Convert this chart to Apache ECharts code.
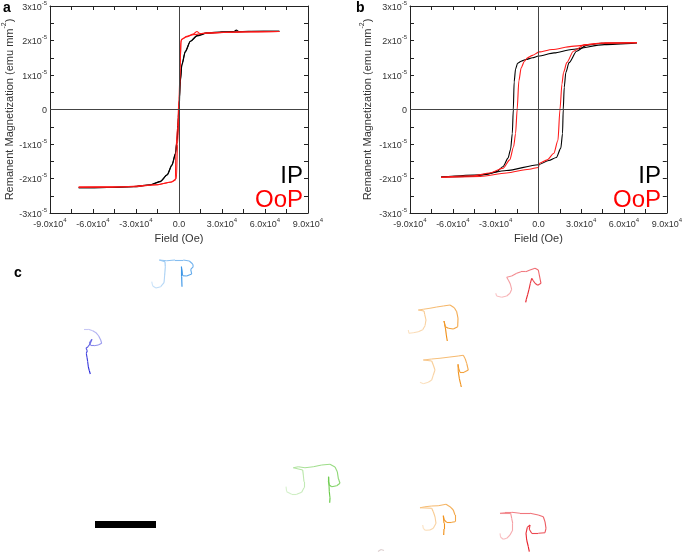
<!DOCTYPE html>
<html>
<head>
<meta charset="utf-8">
<script src="https://cdn.jsdelivr.net/npm/echarts@6/dist/echarts.min.js"></script>
<style>
html,body{margin:0;padding:0;background:#fff;}
#chart{width:685px;height:553px;}
</style>
</head>
<body>
<div id="chart"></div>
<script>
// ---------- DATA ----------
// Axis ticks
const fieldTicks = [-90000, -60000, -30000, 0, 30000, 60000, 90000];
const magTicks = [-3e-5, -2e-5, -1e-5, 0, 1e-5, 2e-5, 3e-5];

// Panel a: [field (Oe), magnetization (emu mm^-2)]
const a_IP_up = [[-70000,-2.27e-5],[-50000,-2.26e-5],[-31500,-2.23e-5],[-20000,-2.18e-5],[-13000,-2.08e-5],[-8300,-1.89e-5],[-4900,-1.6e-5],[-2500,-1.27e-5],[-1400,-0.89e-5],[-500,-0.22e-5],[200,0.26e-5],[900,0.83e-5],[2000,1.31e-5],[4400,1.69e-5],[7900,1.98e-5],[12500,2.14e-5],[19400,2.22e-5],[30000,2.25e-5],[38000,2.26e-5],[40000,2.3e-5],[42000,2.26e-5],[55000,2.27e-5],[70000,2.27e-5]];
const a_IP_down = [[70000,2.27e-5],[50000,2.26e-5],[30000,2.24e-5],[19400,2.21e-5],[12500,2.13e-5],[7900,1.97e-5],[4400,1.67e-5],[2000,1.28e-5],[900,0.8e-5],[-200,-0.3e-5],[-1400,-0.92e-5],[-2500,-1.3e-5],[-4900,-1.62e-5],[-8300,-1.9e-5],[-13000,-2.09e-5],[-20000,-2.19e-5],[-31500,-2.24e-5],[-50000,-2.26e-5],[-70000,-2.27e-5]];
const a_OoP_up = [[-70000,-2.25e-5],[-50000,-2.25e-5],[-31500,-2.24e-5],[-15300,-2.18e-5],[-6000,-2.11e-5],[-2500,-2.05e-5],[-2200,-1.2e-5],[-1000,-0.5e-5],[0,0.3e-5],[800,1.2e-5],[1200,1.95e-5],[2000,2.04e-5],[5500,2.12e-5],[10000,2.19e-5],[12500,2.26e-5],[14800,2.2e-5],[24000,2.22e-5],[38000,2.24e-5],[55000,2.25e-5],[70000,2.26e-5]];
const a_OoP_down = [[70000,2.26e-5],[40000,2.25e-5],[20000,2.22e-5],[10000,2.17e-5],[5000,2.1e-5],[1500,2.02e-5],[1000,1.5e-5],[0,-0.1e-5],[-1000,-1.0e-5],[-1800,-2.0e-5],[-5000,-2.1e-5],[-15000,-2.18e-5],[-40000,-2.24e-5],[-70000,-2.25e-5]];

// Panel b
const b_IP_down = [[69100,1.93e-5],[46200,1.88e-5],[23300,1.74e-5],[11000,1.64e-5],[0,1.55e-5],[-4100,1.5e-5],[-8700,1.45e-5],[-12100,1.4e-5],[-14600,1.34e-5],[-16000,1.18e-5],[-17000,0.8e-5],[-17600,0],[-18300,-0.7e-5],[-19500,-1.15e-5],[-21300,-1.41e-5],[-24700,-1.65e-5],[-29300,-1.8e-5],[-36200,-1.88e-5],[-45300,-1.93e-5],[-68200,-1.96e-5]];
const b_IP_up = [[-68200,-1.96e-5],[-40700,-1.89e-5],[-22400,-1.77e-5],[0,-1.6e-5],[7300,-1.48e-5],[12600,-1.39e-5],[15700,-1.12e-5],[16900,-0.7e-5],[17400,0],[18100,0.64e-5],[19200,1.07e-5],[21500,1.36e-5],[26800,1.69e-5],[33600,1.86e-5],[43900,1.92e-5],[69100,1.94e-5]];
const b_OoP_down = [[69100,1.94e-5],[46200,1.93e-5],[23300,1.83e-5],[9600,1.74e-5],[500,1.67e-5],[-4100,1.57e-5],[-7600,1.5e-5],[-9800,1.4e-5],[-12100,1.21e-5],[-13700,0.83e-5],[-14900,0],[-16000,-0.7e-5],[-17400,-1.08e-5],[-20100,-1.46e-5],[-24700,-1.7e-5],[-33900,-1.84e-5],[-45300,-1.92e-5],[-68200,-1.96e-5]];
const b_OoP_up = [[-68200,-1.97e-5],[-40700,-1.94e-5],[-22400,-1.84e-5],[-6400,-1.73e-5],[0,-1.68e-5],[700,-1.56e-5],[6200,-1.46e-5],[10800,-1.27e-5],[13700,-0.89e-5],[15100,0],[16500,0.74e-5],[17600,1.07e-5],[19900,1.36e-5],[24500,1.69e-5],[32500,1.88e-5],[43900,1.92e-5],[69100,1.93e-5]];

// Panel c: tracked trajectories (x, y in image units, first point = start)
const trackLightBlue = [[151.7,281.7],[152.7,286],[156,288],[160.7,286.7],[164,282.7],[164.7,275],[165.3,266.7],[165,261.7],[159.3,260],[166.7,260.7],[175,260],[183.3,260],[189.3,261],[192.7,264],[193.3,266.7],[190.7,269.3],[191.7,274],[186.7,276],[182.7,275.7],[182,270],[181.3,266.7],[181.7,276.7],[182,286.7]];
const trackDarkBlue = [[84,329.3],[88.3,329.3],[92.7,330.7],[96,332.7],[98.7,336],[100.7,340],[101.7,343.3],[98.3,345],[94,345.7],[90.7,345.3],[89.3,343.3],[90.7,340.7],[92,339.3],[90,344],[88,346.7],[86,348.3],[87.3,350.7],[86.3,353.3],[87,357.3],[87.7,361.7],[88.3,366.7],[89.3,370.7],[90.3,374]];
const trackRedTop = [[495.7,293.3],[496.7,296],[501.7,297.3],[506.7,296],[510,293.3],[511.7,289.3],[510.3,284],[508.3,280],[506.7,277.3],[511.7,276],[516.7,273.3],[521,271.7],[525.7,271.7],[530,270],[535,268.3],[538.3,270],[539.3,275],[540.3,280],[541,283.3],[537.7,285.3],[535,283.3],[533.3,280.7],[531.7,278.3],[530.3,283.3],[529,289.3],[527.7,294.3],[526.3,299.3],[525.7,302.3]];
const trackOrange1 = [[408.3,330],[409,333.3],[413.3,332.7],[418.3,331.7],[422.7,329.7],[425,325.7],[426,320],[424.7,314.3],[424,311],[418.3,310],[423.3,309.3],[430,308.3],[436.7,307],[443.3,306],[450,305],[454.3,307.7],[456.7,311.7],[458,318.3],[457.7,326.7],[453.3,329],[448.3,328.3],[445.3,326.7],[444,321],[444.7,324.3],[445.7,330],[446.3,335],[447.3,341]];
const trackOrange2 = [[420,382.3],[423.3,383.7],[428.3,382.3],[431.7,380],[433.3,375],[435,370],[433.3,365],[431.7,361],[423.3,360],[431.7,359],[440,358.3],[450,357],[458.3,356],[463.3,355.3],[465.3,359],[466.7,363.3],[468.3,370],[464,372.3],[460,372.3],[458.7,368.3],[458,364.3],[458.3,371.7],[459.3,378.3],[460.7,384.3],[461.3,387]];
const trackGreen = [[286,486.7],[286.7,491.7],[291.7,494.3],[296.7,494.3],[301.7,492.3],[304,487.7],[304,481.7],[303.3,475],[302.7,470],[293.3,467.7],[298.3,466.7],[305,467.7],[313.3,466.7],[321.7,465],[330,464.3],[335,467],[337.3,471.7],[338.3,478.3],[340,483.3],[336.7,485.7],[331.7,486.7],[329.3,485],[328.3,481],[328.7,476.7],[329,485],[329.3,491.7],[330,497.7],[329.7,502.7]];
const trackOrange3 = [[422.7,525],[423.3,528.3],[425.3,530.3],[430,530],[433.3,528.3],[436,523.3],[435,516.7],[433.3,511.7],[431.7,508.3],[420,507.7],[425,506.7],[431.7,506],[438.3,505.7],[446,504.3],[450,506.7],[453.3,510],[455,515],[455,521.7],[451.7,522.3],[446.7,522.3],[444.3,520],[443.3,515.7],[444,523.3],[444,529],[443.7,535]];
const trackRedBottom = [[500,533.3],[500.7,537.3],[503.3,539.3],[506.7,538.3],[510,535],[512.7,530],[512.7,523.3],[511.7,518.3],[510.7,513.3],[500,513.3],[505,512.7],[511.7,512.3],[520,513.3],[530,513.3],[538.3,515],[543.3,516.7],[545,521.7],[546,528.3],[545,532.7],[538.3,533.3],[531.7,533.3],[529.3,529.3],[530,525],[527.3,527.3],[526,533.3],[526.7,540],[528.3,546.7],[529.3,551.7]];
const trackFragment = [[378,551.5],[381,549.5],[384,550.5]];
const scaleBar = [[95,524.5],[156,524.5]];

// ---------- STYLE / BUILD ----------
const FONT = 'Liberation Sans, Arial, sans-serif';
const AX = '#222';

function xFmt(v){
  if (v === 0) return '{n|0.0}';
  return '{n|' + (v/1e4).toFixed(1) + 'x10}{s|4}';
}
function yFmt(v){
  const k = Math.round(v*1e5);
  if (k === 0) return '{n|0}';
  return '{n|' + k + 'x10}{s|-5}';
}
const labelRich = {
  n: {fontSize: 9, fontFamily: FONT, color: '#333', lineHeight: 12, verticalAlign: 'bottom'},
  s: {fontSize: 6, fontFamily: FONT, color: '#333', lineHeight: 12, verticalAlign: 'top'}
};

function xAxes(gridIndex){
  const base = {
    gridIndex, type: 'value', min: fieldTicks[0], max: fieldTicks[fieldTicks.length-1],
    interval: 30000, splitLine: {show: false},
    axisLine: {show: true, onZero: false, lineStyle: {color: AX, width: 1}},
    axisTick: {show: true, inside: true, length: 4, lineStyle: {color: AX}},
    minorTick: {show: true, splitNumber: 2, length: 4, lineStyle: {color: AX}}
  };
  return [
    Object.assign({}, base, {position: 'bottom',
      axisLabel: {show: true, formatter: xFmt, rich: labelRich, margin: 4},
      name: 'Field (Oe)', nameLocation: 'middle', nameGap: 20,
      nameTextStyle: {fontSize: 11, fontFamily: FONT, color: '#333'}}),
    Object.assign({}, base, {position: 'top', axisLabel: {show: false}})
  ];
}
function yAxes(gridIndex, gap){
  const base = {
    gridIndex, type: 'value', min: magTicks[0], max: magTicks[magTicks.length-1],
    interval: 1e-5, splitLine: {show: false},
    axisLine: {show: true, onZero: false, lineStyle: {color: AX, width: 1}},
    axisTick: {show: true, inside: true, length: 4, lineStyle: {color: AX}},
    minorTick: {show: true, splitNumber: 2, length: 4, lineStyle: {color: AX}}
  };
  return [
    Object.assign({}, base, {position: 'left',
      axisLabel: {show: true, formatter: yFmt, rich: labelRich, margin: 3},
      name: '{n|Remanent Magnetization (emu mm}{s|-2}{n|)}', nameLocation: 'middle', nameGap: gap,
      nameTextStyle: {rich: {
        n: {fontSize: 11, fontFamily: FONT, color: '#333', lineHeight: 14, verticalAlign: 'bottom'},
        s: {fontSize: 7, fontFamily: FONT, color: '#333', lineHeight: 14, verticalAlign: 'top'}
      }}}),
    Object.assign({}, base, {position: 'right', axisLabel: {show: false}})
  ];
}

function loopSeries(data, color, xi, yi, withZero){
  const s = {
    type: 'line', data: data, xAxisIndex: xi, yAxisIndex: yi,
    showSymbol: false, symbol: 'none', silent: true, animation: false,
    smooth: 0.25, smoothMonotone: 'x',
    lineStyle: {color: color, width: 1.1}, z: 3
  };
  if (withZero) {
    s.markLine = {
      silent: true, symbol: 'none', label: {show: false}, animation: false,
      lineStyle: {color: '#444', width: 1, type: 'solid'},
      data: [{yAxis: 0}, {xAxis: 0}]
    };
  }
  return s;
}

function mix(hex, t){ // t=0 -> pale, t=1 -> full colour
  const r = parseInt(hex.slice(1,3),16), g = parseInt(hex.slice(3,5),16), b = parseInt(hex.slice(5,7),16);
  const f = 0.25 + 0.75*t;
  const c = v => Math.round(255 - (255 - v)*f);
  return 'rgb(' + c(r) + ',' + c(g) + ',' + c(b) + ')';
}
const tracks = [
  [trackLightBlue, '#3592e6'],
  [trackDarkBlue, '#2020d8'],
  [trackRedTop, '#e61a24'],
  [trackOrange1, '#f08c10'],
  [trackOrange2, '#f08c10'],
  [trackGreen, '#62c840'],
  [trackOrange3, '#f08c10'],
  [trackRedBottom, '#e61a24'],
  [trackFragment, '#b89a9a']
];
const segData = [];
tracks.forEach(([pts, col]) => {
  for (let i = 0; i < pts.length - 1; i++) {
    const t = pts.length > 3 ? i/(pts.length - 2) : 0.3;
    segData.push({coords: [pts[i], pts[i+1]], lineStyle: {color: mix(col, t)}});
  }
});

const chart = echarts.init(document.getElementById('chart'), null, {renderer: 'canvas'});
const xa = xAxes(0).concat(xAxes(1));
const ya = yAxes(0, 35).concat(yAxes(1, 37));
xa.push({gridIndex: 2, type: 'value', min: 0, max: 685, show: false});
ya.push({gridIndex: 2, type: 'value', min: 0, max: 553, inverse: true, show: false});

chart.setOption({
  animation: false,
  backgroundColor: '#fff',
  grid: [
    {left: 49, top: 5, width: 259, height: 208},
    {left: 410, top: 5, width: 260, height: 208},
    {left: 0, top: 0, width: 685, height: 553}
  ],
  xAxis: xa,
  yAxis: ya,
  series: [
    loopSeries(a_IP_up, '#000', 0, 0, true),
    loopSeries(a_IP_down, '#000', 0, 0, false),
    loopSeries(a_OoP_up, '#ff1a1a', 0, 0, false),
    loopSeries(a_OoP_down, '#ff1a1a', 0, 0, false),
    loopSeries(b_IP_down, '#000', 2, 2, true),
    loopSeries(b_IP_up, '#000', 2, 2, false),
    loopSeries(b_OoP_down, '#ff1a1a', 2, 2, false),
    loopSeries(b_OoP_up, '#ff1a1a', 2, 2, false),
    {
      type: 'lines', coordinateSystem: 'cartesian2d', xAxisIndex: 4, yAxisIndex: 4,
      polyline: false, silent: true, animation: false,
      lineStyle: {width: 1.1, opacity: 1}, data: segData, z: 2
    },
    {
      type: 'lines', coordinateSystem: 'cartesian2d', xAxisIndex: 4, yAxisIndex: 4,
      polyline: false, silent: true, animation: false,
      lineStyle: {width: 7, opacity: 1, color: '#000', cap: 'butt'},
      data: [{coords: scaleBar}], z: 2
    }
  ],
  graphic: [
    {type: 'text', left: 3, top: 1, style: {text: 'a', font: 'bold 14px ' + FONT, fill: '#000'}},
    {type: 'text', left: 356, top: 1, style: {text: 'b', font: 'bold 14px ' + FONT, fill: '#000'}},
    {type: 'text', left: 14, top: 266, style: {text: 'c', font: 'bold 14px ' + FONT, fill: '#000'}},
    {type: 'text', x: 303, y: 176, style: {text: 'IP', font: '24px ' + FONT, fill: '#000', textAlign: 'right', textVerticalAlign: 'middle'}},
    {type: 'text', x: 303, y: 200, style: {text: 'OoP', font: '24px ' + FONT, fill: '#ff0000', textAlign: 'right', textVerticalAlign: 'middle'}},
    {type: 'text', x: 661, y: 176, style: {text: 'IP', font: '24px ' + FONT, fill: '#000', textAlign: 'right', textVerticalAlign: 'middle'}},
    {type: 'text', x: 661, y: 200, style: {text: 'OoP', font: '24px ' + FONT, fill: '#ff0000', textAlign: 'right', textVerticalAlign: 'middle'}}
  ]
});
</script>
</body>
</html>
